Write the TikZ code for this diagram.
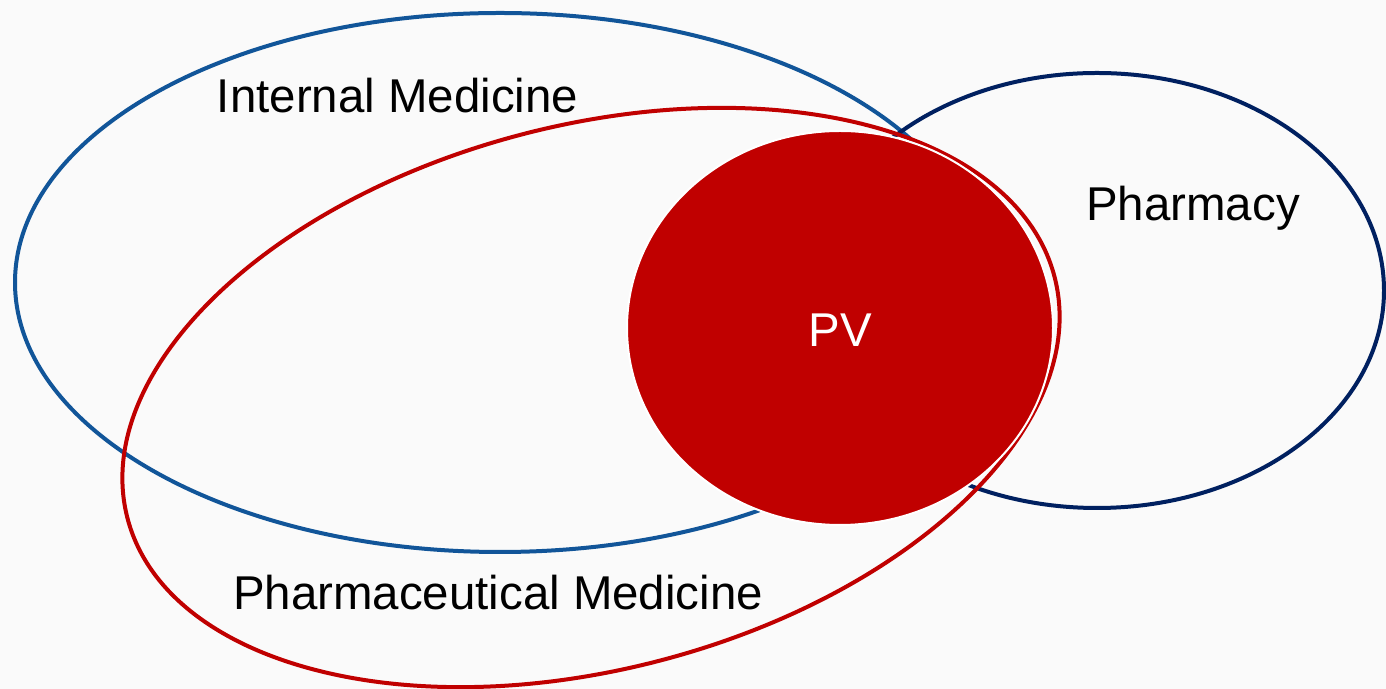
\documentclass[tikz,border=0pt]{standalone}
\usepackage{fontspec}
\setmainfont{Liberation Sans}
\definecolor{medblue}{RGB}{17,85,153}
\definecolor{pharmnavy}{RGB}{0,32,96}
\definecolor{pvred}{RGB}{192,0,0}
\definecolor{paper}{RGB}{250,250,250}
\begin{document}
\begin{tikzpicture}[x=0.02cm,y=0.02cm,
    ring/.style={line width=0.08cm},
    lbl/.style={font=\fontsize{27}{32}\selectfont, anchor=base, inner sep=0pt}]
    \fill[paper] (0,0) rectangle (1386,689);
    \useasboundingbox (0,0) rectangle (1386,689);

    \draw[ring, medblue]   (500,406.5) ellipse [x radius=485, y radius=269.5];
    \draw[ring, pharmnavy] (1097,398.5) ellipse [x radius=287, y radius=217.5];
    \draw[ring, pvred, rotate around={14.6:(591,291.5)}]
          (591,291.5) ellipse [x radius=479, y radius=272];

    \draw[fill=pvred, draw=white, line width=0.04cm]
          (840,361) ellipse [x radius=213, y radius=197];

    \node[lbl] (internal) at (397.5,576) {Internal Medicine};
    \node[lbl] (pharmacy) at (1193,468) {Pharmacy};
    \node[lbl] (pharmmed) at (498,79)   {Pharmaceutical Medicine};
    \node[lbl, text=white] (pv) at (840,342) {PV};
  \end{tikzpicture}
\end{document}
